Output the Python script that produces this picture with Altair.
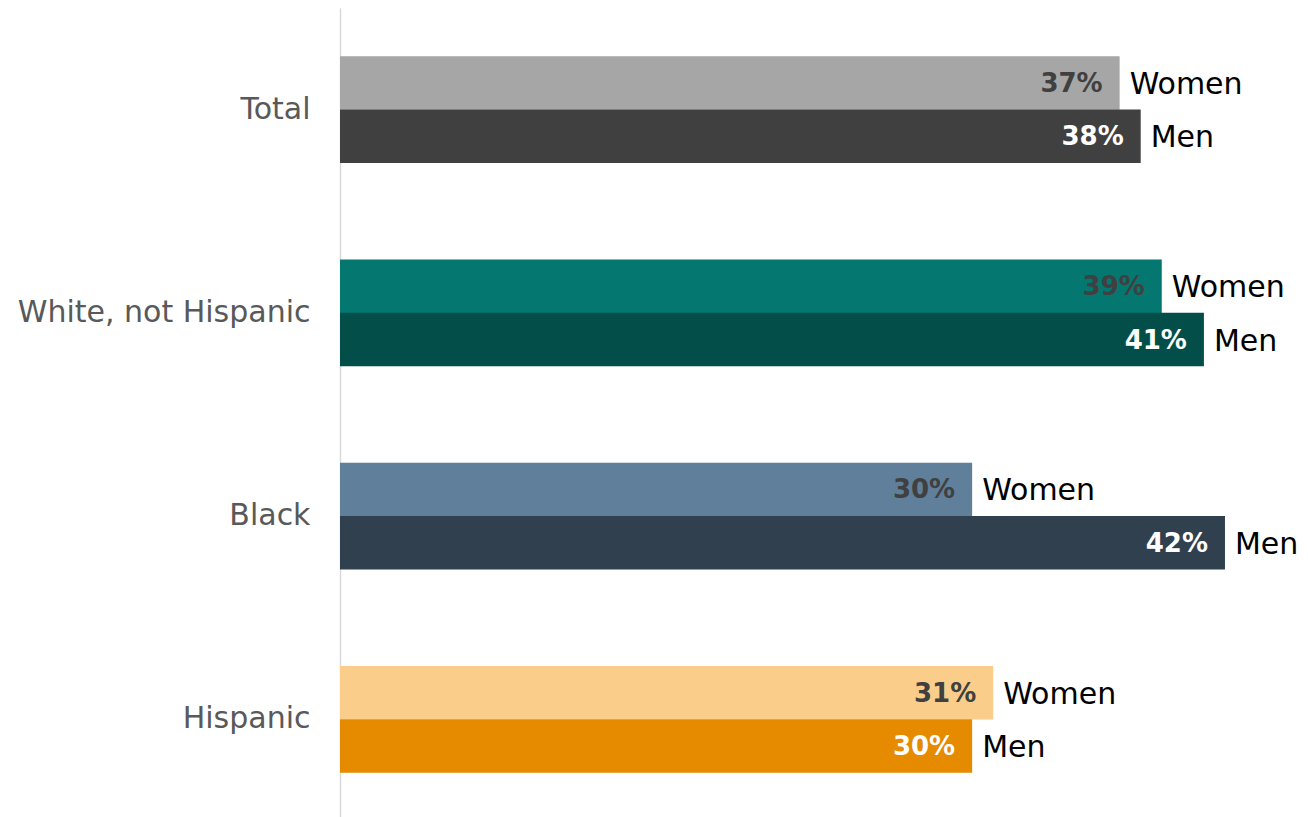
import altair as alt
import pandas as pd

groups = ["Total", "White, not Hispanic", "Black", "Hispanic"]
sexes = ["Women", "Men"]
women_vals = [37, 39, 30, 31]
men_vals = [38, 41, 42, 30]
women_colors = ["#a6a6a6", "#047870", "#5f7f9b", "#fbcd8b"]
men_colors = ["#404040", "#034e48", "#30404f", "#e68a00"]

rows = []
for g, wv, mv, wc, mc in zip(groups, women_vals, men_vals, women_colors, men_colors):
    rows.append({"group": g, "sex": "Women", "value": wv, "color": wc,
                 "label": f"{wv}%", "lcolor": "#404040"})
    rows.append({"group": g, "sex": "Men", "value": mv, "color": mc,
                 "label": f"{mv}%", "lcolor": "#ffffff"})
df = pd.DataFrame(rows)

y_enc = alt.Y("group:N", sort=groups,
              scale=alt.Scale(paddingInner=0.474, paddingOuter=0.237),
              axis=alt.Axis(title=None, ticks=False, labelFontSize=30,
                            labelColor="#595959", labelFont="DejaVu Sans",
                            labelPadding=30, domainColor="#d9d9d9",
                            domainWidth=1.5, labelLimit=400))
yoff = alt.YOffset("sex:N", sort=sexes)
x_enc = alt.X("value:Q", scale=alt.Scale(domain=[0, 45.56], nice=False),
              axis=None)

base = alt.Chart(df).encode(y=y_enc, yOffset=yoff, x=x_enc)

bars = base.mark_bar(size=53.5).encode(color=alt.Color("color:N", scale=None))

pct = base.mark_text(align="right", baseline="middle", dx=-17, dy=1, fontSize=26,
                     fontWeight="bold", font="DejaVu Sans").encode(
    text="label:N", color=alt.Color("lcolor:N", scale=None))

names = base.mark_text(align="left", baseline="middle", dx=10, dy=2,
                       fontSize=30, font="DejaVu Sans", color="#000000").encode(
    text="sex:N")

chart = alt.layer(bars, pct, names).properties(
    width=960, height=813,
    autosize=alt.AutoSizeParams(type="none"),
    padding={"left": 332, "top": 0, "right": 0, "bottom": 0},
).configure_view(stroke=None)

chart.save("out.html", embed_options={"renderer": "svg", "actions": False})
